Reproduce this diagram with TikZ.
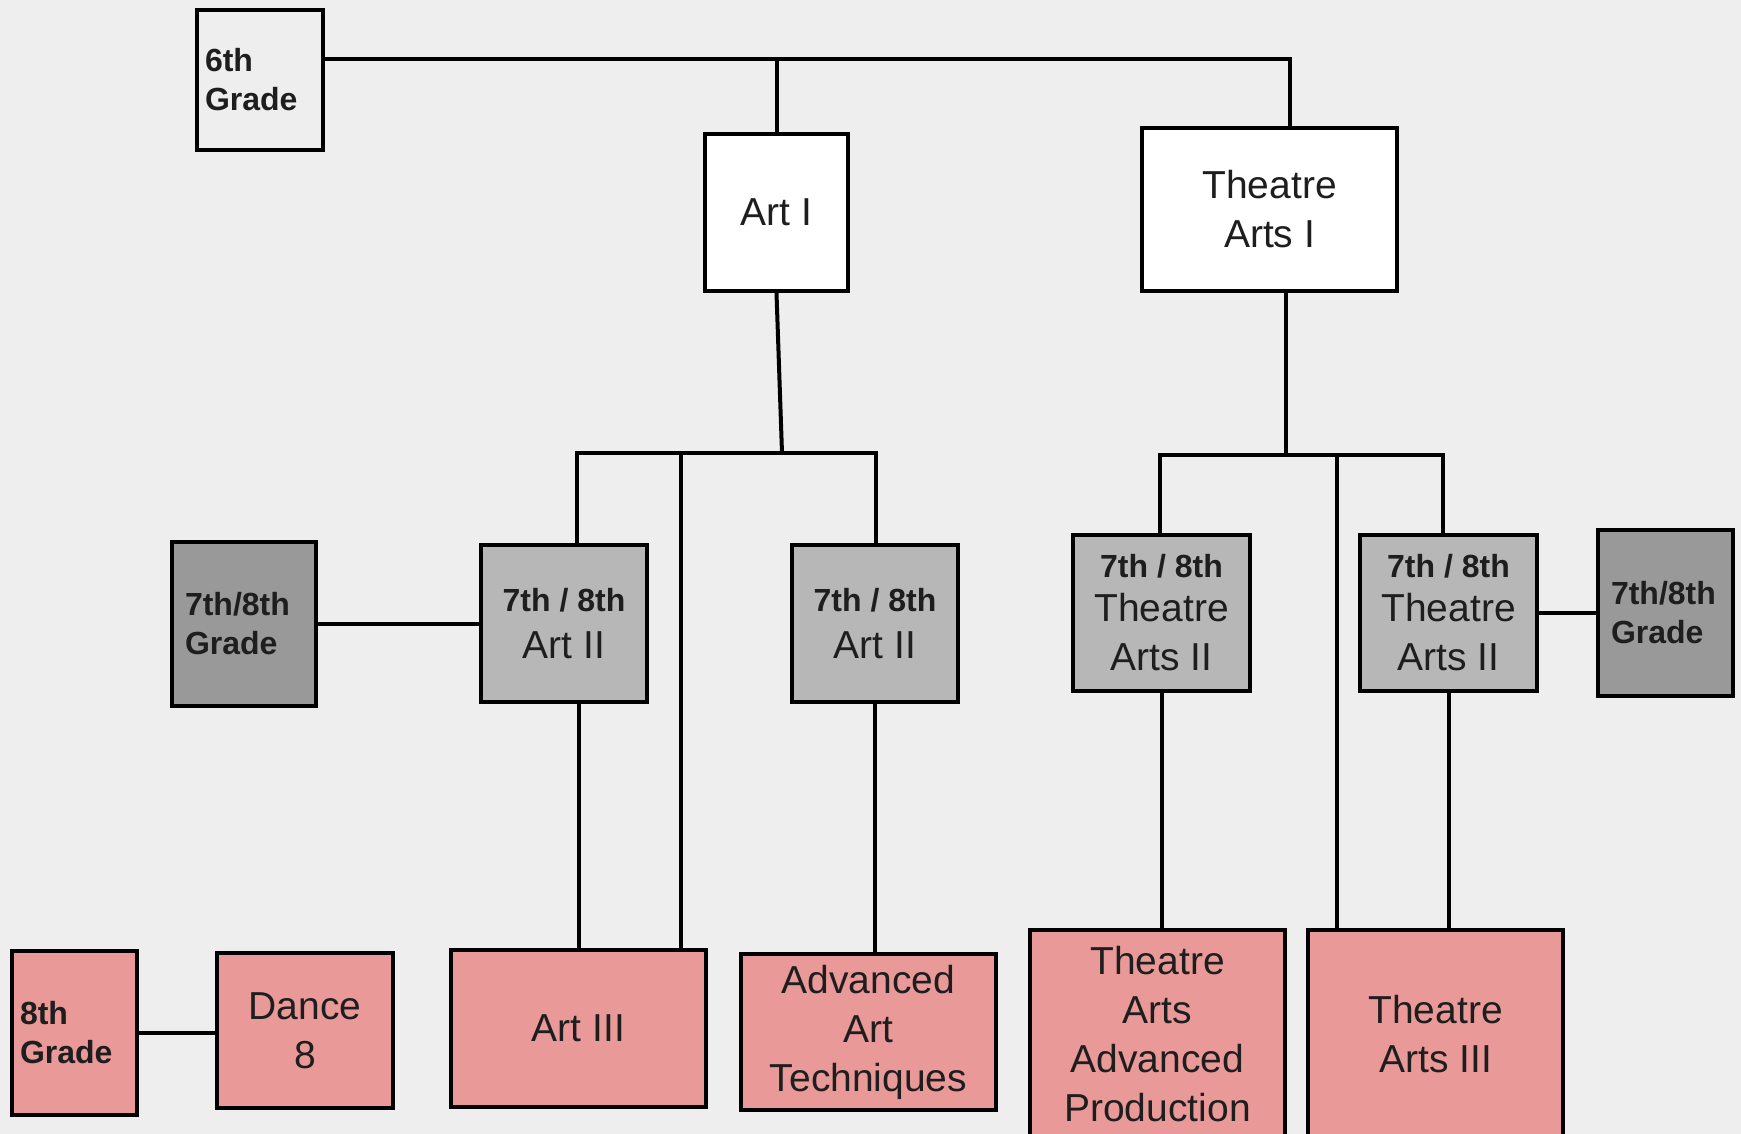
\documentclass[tikz,border=0pt]{standalone}
\usepackage{fontspec}
\setmainfont{Liberation Sans}
\definecolor{bgfill}{HTML}{EEEEEE}
\definecolor{gradefill}{HTML}{999999}
\definecolor{twofill}{HTML}{B7B7B7}
\definecolor{threefill}{HTML}{EA9999}
\definecolor{inkcol}{HTML}{1E1E1E}
\newcommand{\yrs}[1]{{\bfseries\fontsize{16}{22}\selectfont #1}}
\begin{document}
\begin{tikzpicture}[x=0.5pt,y=-0.5pt]
		\tikzstyle{box} = [draw=black,line width=2pt,text=inkcol,align=center,inner sep=0pt,font=\fontsize{19.5}{24.5}\selectfont]
		\tikzstyle{gradebox} = [box,align=left,minimum height=82pt,inner xsep=6.5pt,font=\bfseries\fontsize{16}{19.5}\selectfont]
		\tikzstyle{link} = [line width=2pt]
		\clip (0,0) rectangle (1741,1134);
		\fill[bgfill] (0,0) rectangle (1741,1134);

		\node[gradebox,fill=bgfill,text width=55pt,inner xsep=4pt,minimum height=70pt] (sixth) at (260,80) {6th\\Grade};
		\node[box,fill=white,minimum width=71.5pt,minimum height=78.5pt] (artone) at (776.5,212.5) {Art I};
		\node[box,fill=white,minimum width=127.5pt,minimum height=81.5pt] (taone) at (1269.5,209.5) {Theatre\\Arts I};

		\node[gradebox,fill=gradefill,text width=59pt] (gradeL) at (244,623.5) {7th/8th\\Grade};
		\node[box,fill=twofill,minimum width=83pt,minimum height=78.5pt] (arttwoL) at (564,623.5) {\yrs{7th / 8th}\\[-1pt]Art II};
		\node[box,fill=twofill,minimum width=83pt,minimum height=78.5pt] (arttwoR) at (875,623.5) {\yrs{7th / 8th}\\[-1pt]Art II};
		\node[box,fill=twofill,minimum width=88.5pt,minimum height=78pt] (tatwoL) at (1161.5,613) {\yrs{7th / 8th}\\[-2.5pt]Theatre\\Arts II};
		\node[box,fill=twofill,minimum width=88.5pt,minimum height=78pt] (tatwoR) at (1448.5,613) {\yrs{7th / 8th}\\[-2.5pt]Theatre\\Arts II};
		\node[gradebox,fill=gradefill,text width=54.5pt,minimum height=83pt] (gradeR) at (1665.5,613) {7th/8th\\Grade};

		\node[gradebox,fill=threefill,text width=54.5pt,inner xsep=4pt] (eighth) at (74.5,1033) {8th\\Grade};
		\node[box,fill=threefill,minimum width=88pt,minimum height=77.5pt] (dance) at (305,1030.5) {Dance\\8};
		\node[box,fill=threefill,minimum width=127.5pt,minimum height=78.5pt] (artthree) at (578.5,1028.5) {Art III};
		\node[box,fill=threefill,minimum width=127.5pt,minimum height=78pt] (advart) at (868.5,1032) {Advanced\\Art\\Techniques};
		\node[box,fill=threefill,minimum width=127.5pt,minimum height=104pt] (taadv) at (1157.5,1034) {Theatre\\Arts\\Advanced\\Production};
		\node[box,fill=threefill,minimum width=127.5pt,minimum height=104pt] (tathree) at (1435.5,1034) {Theatre\\Arts III};

		\coordinate (topbar) at (1290,59);
		\draw[link] (sixth.east |- topbar) -- (topbar) -- (taone.north -| topbar);
		\draw[link] (artone.north |- topbar) -- (artone.north);

		\coordinate (artjoin) at (782,453);
		\coordinate (artbarL) at (577,453);
		\coordinate (artbarM) at (681,453);
		\coordinate (artbarR) at (876,453);
		\draw[link] (artone.south) -- (artjoin);
		\draw[link] (arttwoL.north -| artbarL) -- (artbarL) -- (artbarR) -- (arttwoR.north -| artbarR);
		\draw[link] (artbarM) -- (artbarM |- artthree.north);
		\draw[link] (arttwoL.south -| artthree.north) -- (artthree.north);
		\draw[link] (arttwoR.south) -- (arttwoR.south |- advart.north);

		\coordinate (tajoin) at (1286,455);
		\coordinate (tabarL) at (1160,455);
		\coordinate (tabarM) at (1337,455);
		\coordinate (tabarR) at (1443,455);
		\draw[link] (taone.south -| tajoin) -- (tajoin);
		\draw[link] (tatwoL.north -| tabarL) -- (tabarL) -- (tabarR) -- (tatwoR.north -| tabarR);
		\draw[link] (tabarM) -- (tabarM |- tathree.north);
		\draw[link] (tatwoL.south) -- (tatwoL.south |- taadv.north);
		\draw[link] (tatwoR.south) -- (tatwoR.south |- tathree.north);

		\draw[link] (gradeL) -- (arttwoL);
		\draw[link] (tatwoR) -- (gradeR);
		\draw[link] (eighth.east) -- (eighth.east -| dance.west);
	\end{tikzpicture}
\end{document}
